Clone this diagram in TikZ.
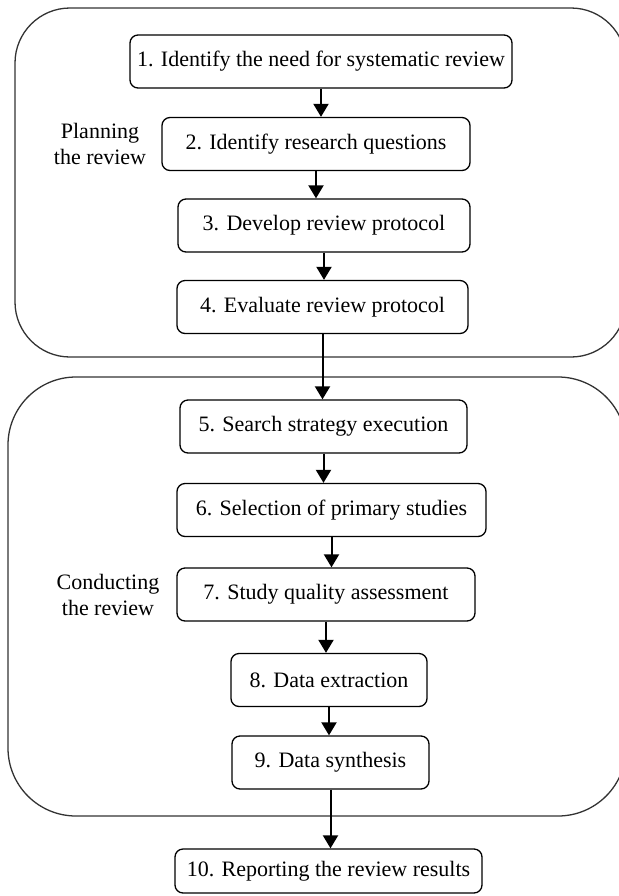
\documentclass[tikz,border=0pt]{standalone}
\usepackage{fontspec}
\setmainfont{Liberation Serif}
\usepackage{tikz}
\usetikzlibrary{arrows.meta}

\begin{document}
\begin{tikzpicture}[
    x=0.5pt, y=-0.5pt,
    phase/.style={draw=black!80, line width=0.65pt},
    stepbox/.style={rectangle, rounded corners=4pt, draw, line width=0.65pt, minimum width=#1, minimum height=26.5pt, inner sep=0pt, font=\fontsize{11}{13}\selectfont},
    phase note/.style={align=center, font=\fontsize{11}{13}\selectfont},
    link/.style={line width=1pt, -{Triangle[length=6.5pt,width=7.5pt]}}
]
  \useasboundingbox (0,0) rectangle (618,896);

  % the two phases
  \draw[phase, rounded corners=27.5pt] (15,8) rectangle (626,357);
  \draw[phase, rounded corners=34pt] (8,377) rectangle (626,816);
  \node[phase note] (plan) at (100,144) {Planning\\the review};
  \node[phase note] (cond) at (108,595) {Conducting\\the review};

  % steps
  \node[stepbox=191pt] (s1) at (321,61.5) {1. Identify the need for systematic review};
  \node[stepbox=154pt] (s2) at (316,144) {2. Identify research questions};
  \node[stepbox=146pt] (s3) at (324,225.5) {3. Develop review protocol};
  \node[stepbox=145.5pt] (s4) at (322.5,307) {4. Evaluate review protocol};
  \node[stepbox=143.5pt] (s5) at (323.5,426.5) {5. Search strategy execution};
  \node[stepbox=154.5pt] (s6) at (331.5,510) {6. Selection of primary studies};
  \node[stepbox=149pt] (s7) at (326,594.5) {7. Study quality assessment};
  \node[stepbox=98pt] (s8) at (329,680) {8. Data extraction};
  \node[stepbox=98.5pt] (s9) at (330.5,762.5) {9. Data synthesis};
  \node[stepbox=153.5pt, minimum height=22pt] (s10) at (328.5,871) {10. Reporting the review results};

  \draw[link] (s1.south) -- (s1.south |- s2.north);
  \draw[link] (s2.south) -- (s2.south |- s3.north);
  \draw[link] (s3.south) -- (s3.south |- s4.north);
  \draw[link] (s4.south) -- (s4.south |- s5.north);
  \draw[link] (s5.south) -- (s5.south |- s6.north);
  \draw[link] (s6.south) -- (s6.south |- s7.north);
  \draw[link] (s7.south) -- (s7.south |- s8.north);
  \draw[link] (s8.south) -- (s8.south |- s9.north);
  \draw[link] (s9.south) -- (s9.south |- s10.north);
\end{tikzpicture}
\end{document}
